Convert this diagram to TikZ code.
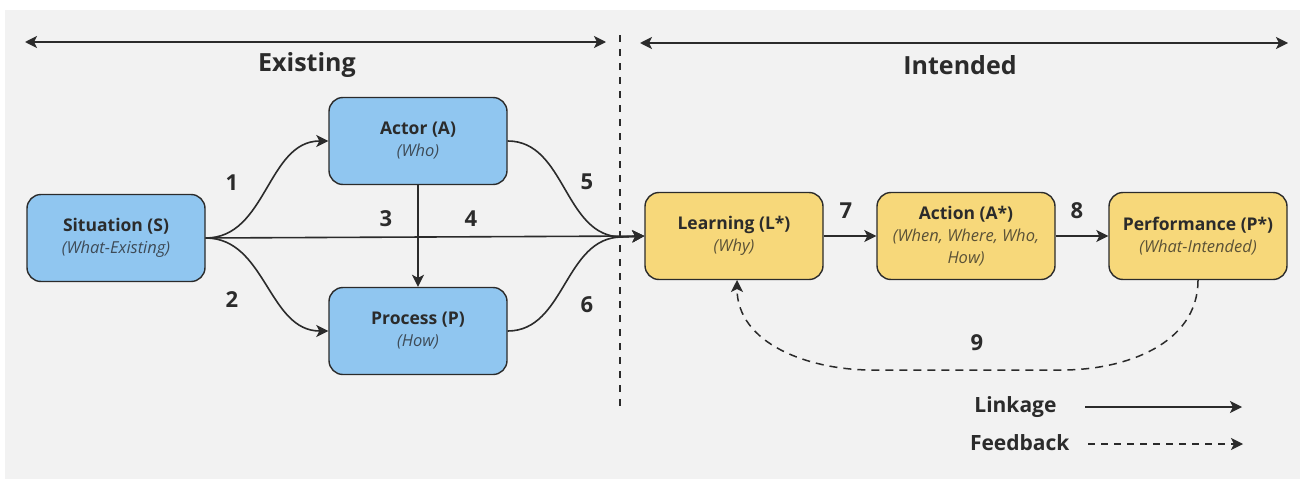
\documentclass[tikz,border=0pt]{standalone}
\usepackage{fontspec}
\setmainfont{Open Sans}
\usetikzlibrary{arrows.meta}
\definecolor{bg}{HTML}{F2F2F2}
\definecolor{bluefill}{HTML}{90C6F0}
\definecolor{yelfill}{HTML}{F7D87A}
\definecolor{ink}{HTML}{2B2B2B}
\definecolor{subblue}{HTML}{3E4B57}
\definecolor{subyel}{HTML}{5A5136}
\tikzset{
  box/.style={draw=ink, line width=1.4pt, rounded corners=14pt, minimum width=178pt, minimum height=87pt, inner sep=2pt, align=center, text=ink, font=\fontsize{17}{22}\selectfont},
  bluebox/.style={box, fill=bluefill},
  yelbox/.style={box, fill=yelfill},
  tip/.tip={Stealth[length=12pt,width=12pt,inset=3pt]},
  link/.style={draw=ink, line width=1.6pt, -tip},
  fb/.style={draw=ink, line width=1.5pt, dash pattern=on 8pt off 6pt, -tip},
  num/.style={font=\fontsize{22}{24}\selectfont\bfseries, text=ink},
  head/.style={font=\fontsize{25}{28}\selectfont\bfseries, text=ink},
  leg/.style={font=\fontsize{21}{24}\selectfont\bfseries, text=ink, anchor=east},
}
\newcommand{\ttl}[1]{{\fontsize{17.5}{22}\selectfont\bfseries #1}}
\newcommand{\sbb}[1]{{\fontsize{16.5}{22}\selectfont\itshape\color{subblue}#1}}
\newcommand{\sby}[1]{{\fontsize{16.5}{22}\selectfont\itshape\color{subyel}#1}}
\begin{document}
\begin{tikzpicture}[x=1pt,y=-1pt]
\useasboundingbox (0,0) rectangle (1306,479);
\fill[bg] (5,10) rectangle (1300,479);
% section headers
\coordinate (el) at (25,42);
\coordinate (er) at (606,42);
\coordinate (il) at (640,43);
\coordinate (ir) at (1288,43);
\draw[draw=ink, line width=1.8pt, tip-tip] (el) -- (er);
\draw[draw=ink, line width=1.8pt, tip-tip] (il) -- (ir);
\node[head] (hex) at (307,65) {Existing};
\node[head] (hin) at (960,65) {Intended};
% divider
\coordinate (d1) at (620,35);
\coordinate (d2) at (620,407);
\draw[draw=ink, line width=1.4pt, dash pattern=on 7pt off 7pt] (d1) -- (d2);
% nodes
\node[bluebox] (S) at (116,238) {\ttl{Situation (S)}\\\sbb{(What-Existing)}};
\node[bluebox] (A) at (418,141) {\ttl{Actor (A)}\\\sbb{(Who)}};
\node[bluebox] (P) at (418,331) {\ttl{Process (P)}\\\sbb{(How)}};
\node[yelbox] (L) at (734,236) {\ttl{Learning (L*)}\\\sby{(Why)}};
\node[yelbox] (X) at (966,236) {\ttl{Action (A*)}\\\sby{(When, Where, Who,}\\\sby{How)}};
\node[yelbox] (F) at (1198,236) {\ttl{Performance (P*)}\\\sby{(What-Intended)}};
% merge point
\coordinate (m) at (622,237);
% connectors
\draw[link] (S.east) to[out=0,in=180] (A.west);
\draw[link] (S.east) to[out=0,in=180] (P.west);
\draw[link] (S.east) -- (L.west);
\draw[link] (A.south) -- (P.north);
\draw[link] (A.east) to[out=0,in=180] (m) -- (L.west);
\draw[link] (P.east) to[out=0,in=180] (m) -- (L.west);
\draw[link] (L.east) -- (X.west);
\draw[link] (X.east) -- (F.west);
\coordinate (f1) at (1062,370);
\coordinate (f2) at (872,370);
\coordinate (lb) at (737,280);
\draw[fb] (F.south) to[out=-90,in=0] (f1) -- (f2) to[out=180,in=-90] (lb);
% numbers
\node[num] (n1) at (232,183) {1};
\node[num] (n2) at (232,300) {2};
\node[num] (n3) at (386,219) {3};
\node[num] (n4) at (471,219) {4};
\node[num] (n5) at (587,182) {5};
\node[num] (n6) at (587,305) {6};
\node[num] (n7) at (846,211) {7};
\node[num] (n8) at (1077,211) {8};
\node[num] (n9) at (977,343) {9};
% legend
\node[leg] (lk) at (1060,407) {Linkage};
\node[leg] (fd) at (1073,443) {Feedback};
\coordinate (lk1) at (1085,407);
\coordinate (lk2) at (1242,407);
\coordinate (fd1) at (1088,444);
\coordinate (fd2) at (1243,444);
\draw[link] (lk1) -- (lk2);
\draw[fb, dash pattern=on 7pt off 6pt] (fd1) -- (fd2);
\end{tikzpicture}
\end{document}
